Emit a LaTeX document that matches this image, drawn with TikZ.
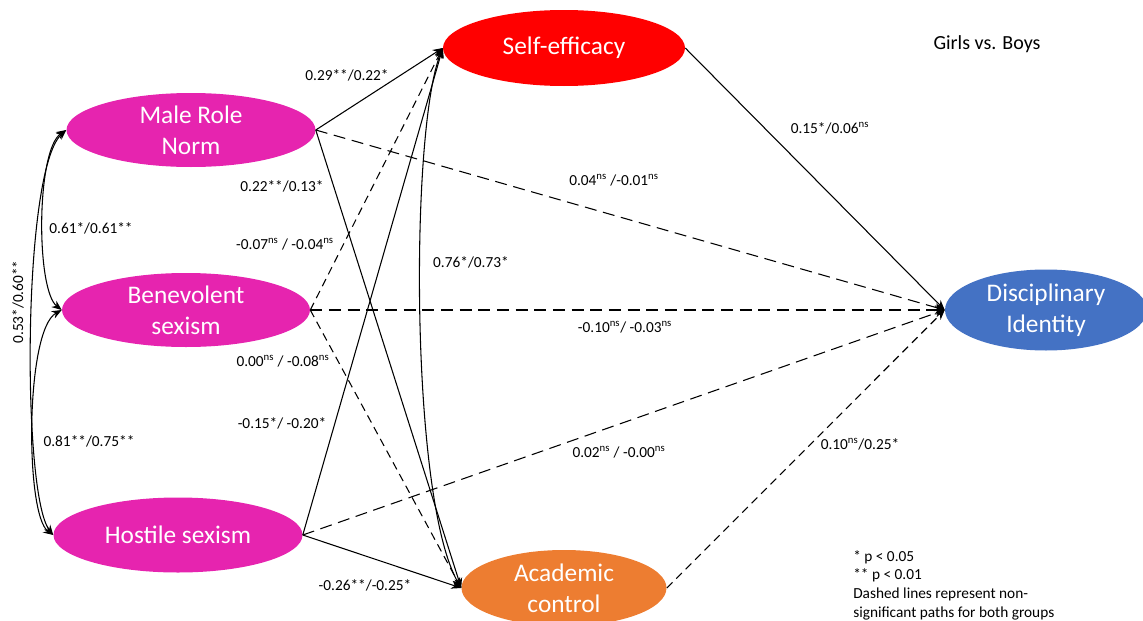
\documentclass[tikz,border=0pt]{standalone}
\usepackage{fontspec}
\setmainfont{Carlito}
\usetikzlibrary{shapes.geometric,arrows.meta}
\definecolor{magentaN}{HTML}{E624AF}
\definecolor{redN}{HTML}{FF0000}
\definecolor{orangeN}{HTML}{ED7D31}
\definecolor{blueN}{HTML}{4472C4}
\newcommand{\nsup}{\textsuperscript{ns}}
\tikzset{
  latent/.style={ellipse, inner sep=0pt, draw=none, text=white, align=center,
    font=\fontsize{19}{23.5}\selectfont},
  lab/.style={inner sep=0pt, font=\fontsize{11.5}{14}\selectfont},
  path/.style={line width=0.8pt, -{Stealth[length=7.5pt,width=6pt]}},
  dlong/.style={dash pattern=on 9pt off 5pt},
  dshort/.style={dash pattern=on 6pt off 4pt},
  covar/.style={line width=0.8pt, {Stealth[length=7.5pt,width=6pt]}-{Stealth[length=7.5pt,width=6pt]}}
}
\begin{document}
\begin{tikzpicture}[x=0.75pt,y=-0.75pt]
\useasboundingbox (0,0) rectangle (1143,621);
% latent variables
\node[latent, fill=magentaN, minimum width=186.75pt, minimum height=55.5pt] (mrn) at (191,130) {Male Role\\Norm};
\node[latent, fill=magentaN, minimum width=186pt, minimum height=55.5pt] (bs) at (186,310) {Benevolent\\sexism};
\node[latent, fill=magentaN, minimum width=186.75pt, minimum height=56.25pt] (hs) at (178,535) {Hostile sexism};
\node[latent, fill=redN, minimum width=181.5pt, minimum height=57pt] (se) at (564,48) {Self-efficacy};
\node[latent, fill=orangeN, minimum width=153.75pt, minimum height=57pt] (ac) at (564,588) {Academic\\control};
\node[latent, fill=blueN, minimum width=151.5pt, minimum height=60.75pt] (di) at (1046,310) {Disciplinary\\Identity};

% paths to self-efficacy
\draw[path] (mrn.east) -- (se.west);
\draw[path, dshort] (bs.east) -- (se.west);
\draw[path] (hs.east) -- (se.west);
% paths to academic control
\draw[path] (mrn.east) -- (ac.west);
\draw[path, dshort] (bs.east) -- (ac.west);
\draw[path] (hs.east) -- (ac.west);
% paths to disciplinary identity
\draw[path, dlong] (mrn.east) -- (di.west);
\draw[path, dlong] (bs.east) -- (di.west);
\draw[path, dlong] (hs.east) -- (di.west);
\draw[path] (se.east) -- (di.west);
\draw[path, dshort] (ac.east) -- (di.west);
% covariances
\draw[covar] (se.west) .. controls (410,130) and (410,500) .. (ac.west);
\draw[covar] (mrn.west) .. controls (36,150) and (36,290) .. (bs.west);
\draw[covar] (bs.west) .. controls (25,330) and (25,515) .. (hs.west);
\draw[covar] (mrn.west) .. controls (22,170) and (22,495) .. (hs.west);

% labels
\node[lab] (l1) at (347,75) {0.29**/0.22*};
\node[lab] (l2) at (282,186) {0.22**/0.13*};
\node[lab] (l3) at (91,228) {0.61*/0.61**};
\node[lab] (l4) at (285,244) {-0.07\nsup{} / -0.04\nsup};
\node[lab, rotate=90] (l5) at (18,302) {0.53*/0.60**};
\node[lab] (l6) at (283,361) {0.00\nsup{} / -0.08\nsup};
\node[lab] (l7) at (282,423) {-0.15*/ -0.20*};
\node[lab] (l8) at (89,441) {0.81**/0.75**};
\node[lab] (l9) at (365,585) {-0.26**/-0.25*};
\node[lab] (l10) at (471,262) {0.76*/0.73*};
\node[lab] (l11) at (614,180) {0.04\nsup{} /-0.01\nsup};
\node[lab] (l12) at (625,327) {-0.10\nsup/ -0.03\nsup};
\node[lab] (l13) at (619,452) {0.02\nsup{} / -0.00\nsup};
\node[lab] (l14) at (830,128) {0.15*/0.06\nsup};
\node[lab] (l15) at (860,444) {0.10\nsup/0.25*};
\node[inner sep=0pt, font=\fontsize{15}{18}\selectfont] (title) at (987,44) {Girls vs. Boys};
\node[lab, anchor=north west, align=left, font=\fontsize{11.5}{14.1}\selectfont] (legend) at (853,550)
  {* p < 0.05\\** p < 0.01\\Dashed lines represent non-\\significant paths for both groups};
\end{tikzpicture}
\end{document}
